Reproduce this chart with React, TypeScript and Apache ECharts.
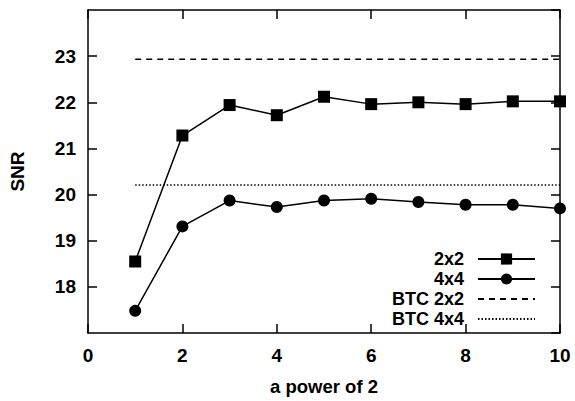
import React, { useEffect, useRef } from "react";
import * as echarts from "echarts";

const powers = [1, 2, 3, 4, 5, 6, 7, 8, 9, 10];
const snr2x2 = [18.55, 21.28, 21.94, 21.72, 22.12, 21.96, 22.0, 21.96, 22.02, 22.02];
const snr4x4 = [17.48, 19.31, 19.87, 19.73, 19.87, 19.91, 19.84, 19.78, 19.78, 19.7];
const btcX = [1, 10];
const btc2x2 = [22.93, 22.93];
const btc4x4 = [20.21, 20.21];

const FONT = "'Liberation Sans', Arial, sans-serif";

export default function App() {
  const ref = useRef<HTMLDivElement>(null);
  useEffect(() => {
    if (!ref.current) return;
    const chart = echarts.init(ref.current, undefined, { renderer: "svg" });
    const axisLine = { show: true, onZero: false, lineStyle: { color: "#000", width: 1.5 } };
    const tick = { show: true, inside: true, length: 9, lineStyle: { color: "#000", width: 1.5 } };
    const label = { color: "#000", fontFamily: FONT, fontWeight: "bold" as const, fontSize: 19 };
    const pair = (xs: number[], ys: number[]) => xs.map((x, i) => [x, ys[i]]);
    chart.setOption({
      animation: false,
      backgroundColor: "#fff",
      grid: { left: 87, right: 15, top: 10, bottom: 64 },
      legend: {
        orient: "vertical",
        right: 39,
        top: 250,
        padding: 0,
        align: "right",
        itemWidth: 57,
        itemHeight: 14,
        itemGap: 2,
        textStyle: { ...label, fontSize: 18, lineHeight: 14, padding: [0, 9, 0, 0] },
        data: [
          { name: "2x2" },
          { name: "4x4" },
          { name: "BTC 2x2", itemStyle: { opacity: 0 } },
          { name: "BTC 4x4", itemStyle: { opacity: 0 } },
        ],
      },
      xAxis: [
        {
          type: "value",
          min: 0,
          max: 10,
          interval: 2,
          position: "bottom",
          name: "a power of 2",
          nameLocation: "middle",
          nameGap: 44,
          nameTextStyle: { ...label, fontSize: 18.5 },
          axisLine,
          axisTick: tick,
          axisLabel: { ...label, margin: 13 },
          splitLine: { show: false },
        },
        {
          type: "value",
          min: 0,
          max: 10,
          interval: 2,
          position: "top",
          axisLine,
          axisTick: tick,
          axisLabel: { show: false },
          splitLine: { show: false },
        },
      ],
      yAxis: [
        {
          type: "value",
          min: 17,
          max: 24,
          interval: 1,
          position: "left",
          name: "SNR",
          nameLocation: "middle",
          nameGap: 61,
          nameTextStyle: label,
          axisLine,
          axisTick: tick,
          axisLabel: { ...label, margin: 12, showMinLabel: false, showMaxLabel: false },
          splitLine: { show: false },
        },
        {
          type: "value",
          min: 17,
          max: 24,
          interval: 1,
          position: "right",
          axisLine,
          axisTick: tick,
          axisLabel: { show: false },
          splitLine: { show: false },
        },
      ],
      series: [
        {
          name: "2x2",
          type: "line",
          data: pair(powers, snr2x2),
          symbol: "rect",
          symbolSize: 12,
          itemStyle: { color: "#000" },
          lineStyle: { color: "#000", width: 1.5 },
        },
        {
          name: "4x4",
          type: "line",
          data: pair(powers, snr4x4),
          symbol: "circle",
          symbolSize: 12,
          itemStyle: { color: "#000" },
          lineStyle: { color: "#000", width: 1.5 },
        },
        {
          name: "BTC 2x2",
          type: "line",
          data: pair(btcX, btc2x2),
          symbol: "none",
          itemStyle: { color: "#000" },
          lineStyle: { color: "#000", width: 1.5, type: [6, 5] },
        },
        {
          name: "BTC 4x4",
          type: "line",
          data: pair(btcX, btc4x4),
          symbol: "none",
          itemStyle: { color: "#000" },
          lineStyle: { color: "#000", width: 1.5, type: [1.5, 2] },
        },
      ],
    });
    return () => chart.dispose();
  }, []);
  return (
    <div
      ref={ref}
      style={{ position: "absolute", left: 0, top: 0, width: 575, height: 401 }}
    />
  );
}
